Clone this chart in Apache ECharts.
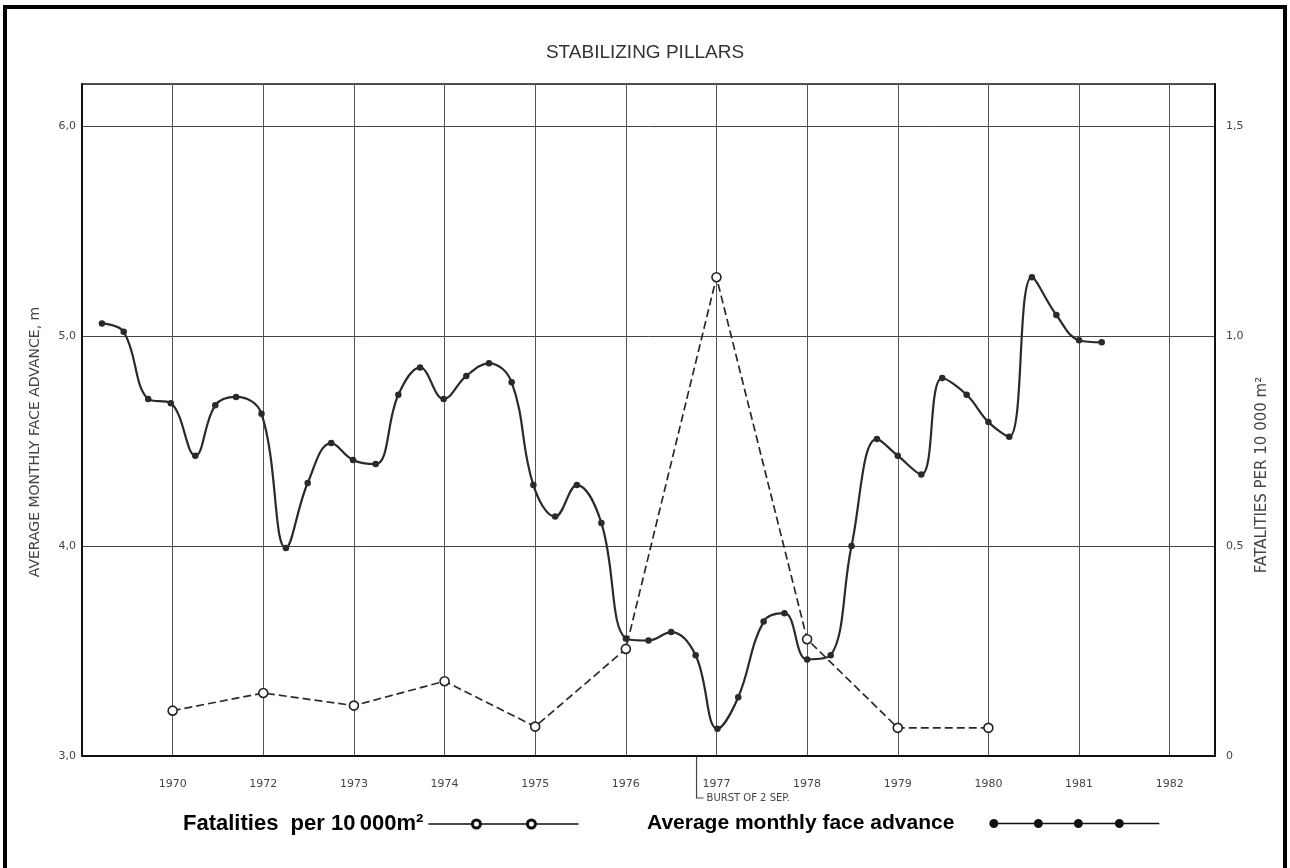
<!DOCTYPE html>
<html><head><meta charset="utf-8">
<script src="https://cdn.jsdelivr.net/npm/echarts@6/dist/echarts.min.js"></script>
<style>
html,body{margin:0;padding:0;background:#fff;}
#wrap{position:relative;width:1290px;height:868px;overflow:hidden;background:#fff;}
#chart{position:absolute;left:0;top:0;width:1290px;height:868px;}
#frame{position:absolute;left:3px;top:5px;width:1276px;height:870px;border:4px solid #000;pointer-events:none;}
</style></head><body>
<div id="wrap"><div id="chart"></div><div id="frame"></div></div>
<script>
// ---- data ----
const xTickPositions = [0,1,2,3,4,5,6,7,8,9,10,11];
const xTickLabels = ['1970','1972','1973','1974','1975','1976','1977','1978','1979','1980','1981','1982'];
const leftTickValues = [3,4,5,6];
const leftTickLabels = ['3,0','4,0','5,0','6,0'];
const rightTickValues = [0,0.5,1,1.5];
const rightTickLabels = ['0','0,5','1,0','1,5'];

const faceAdvanceX = [-0.78,-0.54,-0.27,-0.02,0.25,0.47,0.70,0.98,1.25,1.49,1.75,1.99,2.24,2.49,2.73,2.99,3.24,3.49,3.74,3.98,4.22,4.46,4.73,5.00,5.25,5.50,5.77,6.01,6.24,6.52,6.75,7.00,7.26,7.49,7.77,8.00,8.26,8.49,8.76,9.00,9.23,9.48,9.75,10.00,10.25];
const faceAdvanceY = [5.06,5.02,4.70,4.68,4.43,4.67,4.71,4.63,3.99,4.30,4.49,4.41,4.39,4.72,4.85,4.70,4.81,4.87,4.78,4.29,4.14,4.29,4.11,3.56,3.55,3.59,3.48,3.13,3.28,3.64,3.68,3.46,3.48,4.00,4.51,4.43,4.34,4.80,4.72,4.59,4.52,5.28,5.10,4.98,4.97];

const fatalityX = [0,1,2,3,4,5,6,7,8,9];
const fatalityY = [0.108,0.15,0.12,0.178,0.07,0.255,1.14,0.278,0.067,0.067];

const burstX = [5.78];
const burstLabel = ['BURST OF 2 SEP.'];

const titleText = 'STABILIZING PILLARS';
const leftAxisName = 'AVERAGE MONTHLY FACE ADVANCE, m';
const rightAxisName = 'FATALITIES PER 10 000 m\u00B2';
const seriesNames = ['Fatalities  per 10\u2009000m\u00B2', 'Average monthly face advance'];

// ---- build ----
const facePairs = faceAdvanceX.map((x,i)=>[x, faceAdvanceY[i]]);
const fatalPairs = fatalityX.map((x,i)=>[x, fatalityY[i]]);

function tickFmt(values, labels){
  return v => { const i = values.findIndex(t => Math.abs(t - v) < 1e-9); return i >= 0 ? labels[i] : ''; };
}

// legend icons (drawn at 1:1 scale in icon box)
function ringPath(cx, cy, R, r){
  return `M${cx-R} ${cy} A${R} ${R} 0 1 1 ${cx+R} ${cy} A${R} ${R} 0 1 1 ${cx-R} ${cy} Z ` +
         `M${cx-r} ${cy} A${r} ${r} 0 1 0 ${cx+r} ${cy} A${r} ${r} 0 1 0 ${cx-r} ${cy} Z `;
}
function dotPath(cx, cy, R){
  return `M${cx-R} ${cy} A${R} ${R} 0 1 1 ${cx+R} ${cy} A${R} ${R} 0 1 1 ${cx-R} ${cy} Z `;
}
const icon1 = 'path://' +
  'M0 4.7 L43 4.7 L43 6.3 L0 6.3 Z M53 4.7 L98 4.7 L98 6.3 L53 6.3 Z M108 4.7 L150 4.7 L150 6.3 L108 6.3 Z ' +
  ringPath(48,5.5,5.5,2.5) + ringPath(103,5.5,5.5,2.5);
const icon2 = 'path://' +
  'M0 3.7 L170 3.7 L170 5.3 L0 5.3 Z ' +
  dotPath(4.5,4.5,4.5) + dotPath(49,4.5,4.5) + dotPath(89,4.5,4.5) + dotPath(130,4.5,4.5);

const chart = echarts.init(document.getElementById('chart'), null, {renderer:'canvas'});
const axisFont = 'DejaVu Sans';
const option = {
  backgroundColor: '#fff',
  animation: false,
  title: {
    text: titleText, left: 'center', top: 38,
    textStyle: {fontFamily: 'Liberation Sans', fontWeight: 'normal', fontSize: 19, color: '#333'}
  },
  grid: {left: 82, right: 75, top: 84, bottom: 112, show: true, borderColor: '#222', borderWidth: 1.5, containLabel: false},
  legend: [
    {
      data: [{name: seriesNames[0], icon: icon1}],
      left: 183, top: 813, padding: 0, align: 'right', itemWidth: 150, itemHeight: 11,
      itemStyle: {color: '#111', borderWidth: 0},
      textStyle: {fontFamily: 'Liberation Sans', fontWeight: 'bold', fontSize: 22, color: '#000'},
      selectedMode: false
    },
    {
      data: [{name: seriesNames[1], icon: icon2}],
      left: 647, top: 813, padding: 0, align: 'right', itemWidth: 170, itemHeight: 9,
      itemStyle: {color: '#111', borderWidth: 0},
      textStyle: {fontFamily: 'Liberation Sans', fontWeight: 'bold', fontSize: 21, color: '#000', padding: [0, 30, 0, 0]},
      selectedMode: false
    }
  ],
  xAxis: {
    type: 'value', min: -1, max: 11.5, interval: 1,
    axisLine: {show: true, onZero: false, lineStyle: {color: '#111', width: 2}},
    axisTick: {show: false},
    axisLabel: {margin: 23, fontFamily: axisFont, fontSize: 11, color: '#444', formatter: tickFmt(xTickPositions, xTickLabels)},
    splitLine: {show: true, lineStyle: {color: '#555', width: 1}}
  },
  yAxis: [
    {
      type: 'value', min: 3, max: 6.2, interval: 1, position: 'left',
      name: leftAxisName, nameLocation: 'middle', nameGap: 40, nameRotate: 90,
      nameTextStyle: {fontFamily: axisFont, fontSize: 14, color: '#444', padding: [0, 44, 0, 0]},
      axisLine: {show: true, onZero: false, lineStyle: {color: '#111', width: 2}},
      axisTick: {show: false},
      axisLabel: {margin: 6, fontFamily: axisFont, fontSize: 11, color: '#444', formatter: tickFmt(leftTickValues, leftTickLabels)},
      splitLine: {show: true, lineStyle: {color: '#444', width: 1}}
    },
    {
      type: 'value', min: 0, max: 1.6, interval: 0.5, position: 'right',
      name: rightAxisName, nameLocation: 'middle', nameGap: 40, nameRotate: 90,
      nameTextStyle: {fontFamily: axisFont, fontSize: 15, color: '#444', padding: [0, 110, 0, 0]},
      axisLine: {show: true, onZero: false, lineStyle: {color: '#111', width: 2}},
      axisTick: {show: false},
      axisLabel: {margin: 11, fontFamily: axisFont, fontSize: 11, color: '#444', formatter: tickFmt(rightTickValues, rightTickLabels)},
      splitLine: {show: false}
    }
  ],
  series: [
    {
      name: seriesNames[0], type: 'line', yAxisIndex: 1, data: fatalPairs,
      symbol: 'circle', symbolSize: 9, z: 3,
      lineStyle: {color: '#2a2a2a', width: 1.7, type: [8, 4]},
      itemStyle: {color: '#fff', borderColor: '#222', borderWidth: 1.6}
    },
    {
      name: seriesNames[1], type: 'line', yAxisIndex: 0, data: facePairs,
      smooth: 0.4, symbol: 'circle', symbolSize: 6.5, z: 4,
      lineStyle: {color: '#2a2a2a', width: 2.2},
      itemStyle: {color: '#2a2a2a'}
    }
  ]
};
chart.setOption(option);

// burst annotation under the x axis, positioned through the axes
const bx = chart.convertToPixel({xAxisIndex: 0}, burstX[0]);
const by = chart.convertToPixel({yAxisIndex: 0}, 3);
chart.setOption({
  graphic: [
    {type: 'polyline', silent: true, shape: {points: [[bx, by + 1], [bx, by + 42], [bx + 7, by + 42]]}, style: {stroke: '#444', lineWidth: 1.2, fill: null}},
    {type: 'text', silent: true, x: bx + 10, y: by + 42, style: {text: burstLabel[0], fontFamily: axisFont, fontSize: 10, fill: '#444', verticalAlign: 'middle', align: 'left'}}
  ]
});
</script>
</body></html>
